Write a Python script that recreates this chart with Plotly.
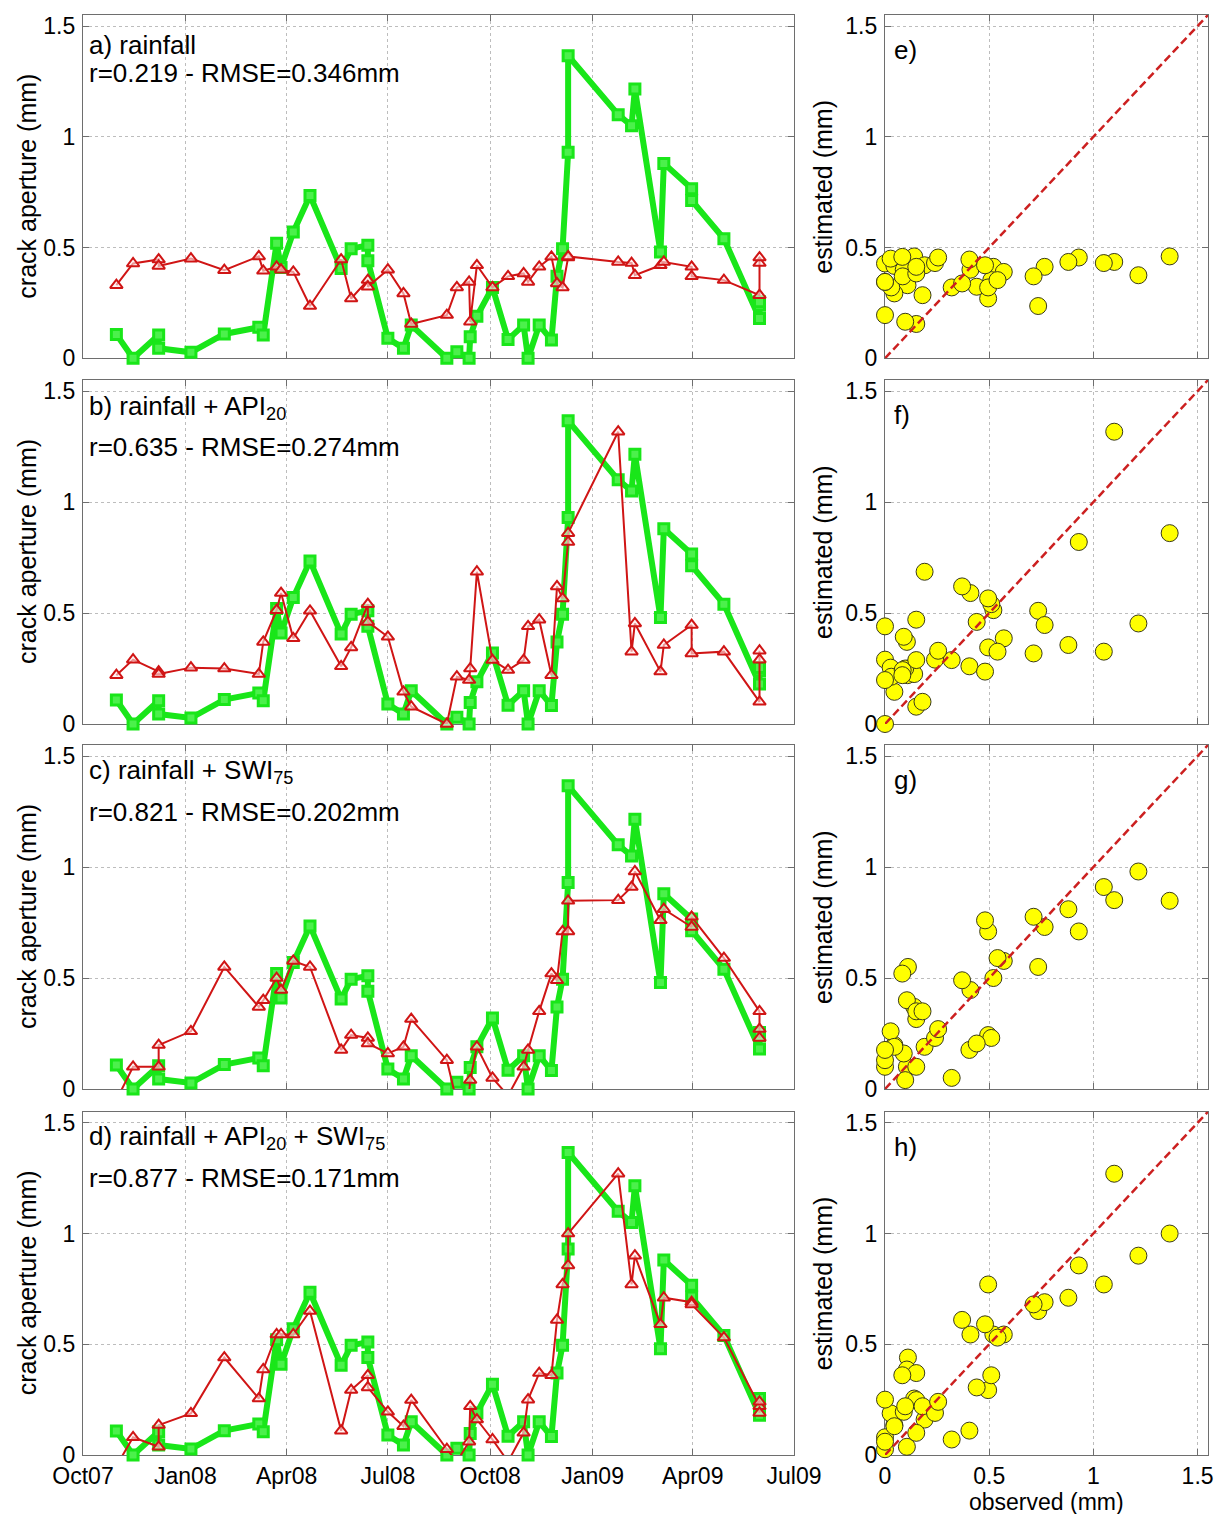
import plotly.graph_objects as go

W, H = 1217, 1514

dates = [
    "2007-10-31", "2007-11-15", "2007-12-08", "2007-12-08", "2008-01-06",
    "2008-02-05", "2008-03-07", "2008-03-11", "2008-03-23", "2008-03-27",
    "2008-04-07", "2008-04-22", "2008-05-20", "2008-05-29", "2008-06-13",
    "2008-06-13", "2008-07-01", "2008-07-15", "2008-07-22", "2008-08-23",
    "2008-09-01", "2008-09-12", "2008-09-13", "2008-09-19", "2008-10-03",
    "2008-10-17", "2008-10-31", "2008-11-04", "2008-11-14", "2008-11-25",
    "2008-11-30", "2008-12-05", "2008-12-10", "2008-12-10", "2009-01-24",
    "2009-02-05", "2009-02-08", "2009-03-03", "2009-03-06", "2009-03-31",
    "2009-03-31", "2009-04-29", "2009-05-31", "2009-05-31", "2009-05-31",
]

observed = [
    0.108, 0.0, 0.105, 0.045, 0.027, 0.11, 0.14, 0.105, 0.52, 0.41,
    0.57, 0.735, 0.405, 0.495, 0.51, 0.44, 0.09, 0.045, 0.15, 0.0,
    0.03, 0.0, 0.097, 0.19, 0.32, 0.085, 0.15, 0.0, 0.15, 0.083,
    0.37, 0.495, 0.93, 1.366, 1.10, 1.05, 1.216, 0.48, 0.88, 0.766,
    0.713, 0.54, 0.18, 0.24, 0.255,
]

est_rain = [
    0.33, 0.428, 0.446, 0.417, 0.45, 0.398, 0.46, 0.395, 0.413, 0.40,
    0.39, 0.236, 0.446, 0.27, 0.353, 0.323, 0.40, 0.293, 0.155, 0.195,
    0.32, 0.345, 0.165, 0.42, 0.32, 0.37, 0.383, 0.345, 0.413, 0.458,
    0.338, 0.32, 0.455, 0.46, 0.435, 0.43, 0.375, 0.42, 0.435, 0.413,
    0.37, 0.353, 0.285, 0.43, 0.455,
]

est_api = [
    0.22, 0.29, 0.236, 0.225, 0.254, 0.25, 0.225, 0.37, 0.513, 0.59,
    0.386, 0.51, 0.26, 0.345, 0.54, 0.46, 0.393, 0.145, 0.078, 0.0,
    0.213, 0.198, 0.25, 0.686, 0.288, 0.243, 0.288, 0.44, 0.47, 0.22,
    0.62, 0.566, 0.82, 0.86, 1.317, 0.326, 0.453, 0.236, 0.356, 0.446,
    0.318, 0.326, 0.10, 0.29, 0.33,
]

est_swi = [
    -0.05, 0.10, 0.10, 0.198, 0.26, 0.55, 0.37, 0.40, 0.50, 0.446,
    0.577, 0.55, 0.176, 0.243, 0.23, 0.205, 0.16, 0.19, 0.315, 0.13,
    -0.06, -0.02, 0.04, 0.19, 0.05, -0.03, 0.10, 0.176, 0.35, 0.52,
    0.49, 0.71, 0.71, 0.848, 0.851, 0.91, 0.98, 0.76, 0.81, 0.73,
    0.776, 0.59, 0.35, 0.23, 0.27,
]

est_all = [
    -0.05, 0.08, 0.037, 0.135, 0.188, 0.44, 0.255, 0.386, 0.544, 0.544,
    0.544, 0.65, 0.11, 0.293, 0.36, 0.305, 0.195, 0.13, 0.248, 0.026,
    -0.03, 0.06, 0.22, 0.16, 0.07, -0.03, 0.10, 0.25, 0.37, 0.36,
    0.61, 0.77, 0.856, 1.0, 1.27, 0.77, 0.90, 0.59, 0.71, 0.69,
    0.68, 0.53, 0.22, 0.19, 0.24,
]

estimates = [est_rain, est_api, est_swi, est_all]

panel_titles = [
    "a) rainfall",
    "b) rainfall + API<sub>20</sub>",
    "c) rainfall + SWI<sub>75</sub>",
    "d) rainfall + API<sub>20</sub> + SWI<sub>75</sub>",
]
panel_stats = [
    "r=0.219 - RMSE=0.346mm",
    "r=0.635 - RMSE=0.274mm",
    "r=0.821 - RMSE=0.202mm",
    "r=0.877 - RMSE=0.171mm",
]
scatter_labels = ["e)", "f)", "g)", "h)"]

date_ticks = ["2007-10-01", "2008-01-01", "2008-04-01", "2008-07-01",
              "2008-10-01", "2009-01-01", "2009-04-01", "2009-07-01"]
date_tick_labels = ["Oct07", "Jan08", "Apr08", "Jul08", "Oct08", "Jan09", "Apr09", "Jul09"]
value_ticks = [0, 0.5, 1, 1.5]
value_tick_labels = ["0", "0.5", "1", "1.5"]
AX_MAX = 1.55

# layout in page pixels
LEFT_X = (83, 794)
RIGHT_X = (885, 1208)
ROWS = [(15, 358.3), (380, 724), (745, 1089), (1111.7, 1455)]
LINE1_OFF = [30, 27, 27, 26]
LINE2_OFF = [58, 67, 67, 66]

FONT = "Liberation Sans, Arial, sans-serif"
FS_TICK = 23
FS_TITLE = 25
FS_TEXT = 26
GREEN = "#19e619"
GREEN_FILL = "#4cf04c"
RED = "#d01515"
GRID = "#bdbdbd"
FRAME = "#6e6e6e"


def px_x(x):
    return x / W


def px_y(y):
    return 1 - y / H


fig = go.Figure()
layout = dict(
    width=W, height=H,
    margin=dict(l=0, r=0, t=0, b=0, autoexpand=False),
    paper_bgcolor="white", plot_bgcolor="white",
    showlegend=False,
    font=dict(family=FONT, size=FS_TICK, color="black"),
)
annotations = []

for i in range(4):
    top, bot = ROWS[i]
    ydom = [px_y(bot), px_y(top)]
    nl, nr = 2 * i + 1, 2 * i + 2
    xl, yl = f"x{nl}", f"y{nl}"
    xr, yr = f"x{nr}", f"y{nr}"
    last = i == 3

    axis_common = dict(
        showline=True, linecolor=FRAME, linewidth=1.2, mirror="ticks",
        ticks="inside", ticklen=6, tickcolor=FRAME, tickwidth=1,
        showgrid=True, gridcolor=GRID, griddash="dot", gridwidth=1,
        zeroline=False, layer="below traces", automargin=False,
        tickfont=dict(family=FONT, size=FS_TICK, color="black"),
    )

    layout[f"xaxis{nl}"] = dict(
        axis_common, domain=[px_x(LEFT_X[0]), px_x(LEFT_X[1])], anchor=yl,
        type="date", range=[date_ticks[0], date_ticks[-1]],
        tickmode="array", tickvals=date_ticks, ticktext=date_tick_labels,
        showticklabels=last, ticklabelstandoff=0,
    )
    layout[f"yaxis{nl}"] = dict(
        axis_common, domain=ydom, anchor=xl, range=[0, AX_MAX],
        tickmode="array", tickvals=value_ticks, ticktext=value_tick_labels,
        ticklabelstandoff=2,
    )
    layout[f"xaxis{nr}"] = dict(
        axis_common, domain=[px_x(RIGHT_X[0]), px_x(RIGHT_X[1])], anchor=yr,
        range=[0, AX_MAX], tickmode="array", tickvals=value_ticks,
        ticktext=value_tick_labels, showticklabels=last, ticklabelstandoff=0,
    )
    layout[f"yaxis{nr}"] = dict(
        axis_common, domain=ydom, anchor=xr, range=[0, AX_MAX],
        tickmode="array", tickvals=value_ticks, ticktext=value_tick_labels,
        ticklabelstandoff=2,
    )

    est = estimates[i]

    # observed (green)
    fig.add_trace(go.Scatter(
        x=dates, y=observed, mode="lines+markers", xaxis=xl, yaxis=yl,
        line=dict(color=GREEN, width=6),
        marker=dict(symbol="square", size=10, color=GREEN_FILL,
                    line=dict(color=GREEN, width=3)),
        cliponaxis=False, hoverinfo="skip",
    ))
    # estimated (red) line
    fig.add_trace(go.Scatter(
        x=dates, y=est, mode="lines", xaxis=xl, yaxis=yl,
        line=dict(color=RED, width=2), hoverinfo="skip",
    ))
    vis = [k for k, v in enumerate(est) if v >= 0]
    fig.add_trace(go.Scatter(
        x=[dates[k] for k in vis], y=[est[k] for k in vis], mode="markers",
        xaxis=xl, yaxis=yl,
        marker=dict(symbol="triangle-up", size=11, color="rgba(255,235,235,0.6)",
                    line=dict(color=RED, width=2)),
        cliponaxis=False, hoverinfo="skip",
    ))

    # scatter observed vs estimated
    fig.add_trace(go.Scatter(
        x=[observed[k] for k in vis], y=[est[k] for k in vis], mode="markers",
        xaxis=xr, yaxis=yr,
        marker=dict(symbol="circle", size=17, color="#ffff00",
                    line=dict(color="#3a3a1a", width=1)),
        cliponaxis=False, hoverinfo="skip",
    ))
    fig.add_trace(go.Scatter(
        x=[0, AX_MAX], y=[0, AX_MAX], mode="lines", xaxis=xr, yaxis=yr,
        line=dict(color="#cc2020", width=2.5, dash="8px,4px"), hoverinfo="skip",
    ))

    # texts
    annotations.append(dict(
        text=panel_titles[i], xref="paper", yref="paper",
        x=px_x(87), y=px_y(top + LINE1_OFF[i]), xanchor="left", yanchor="middle",
        showarrow=False, font=dict(family=FONT, size=FS_TEXT, color="black"),
    ))
    annotations.append(dict(
        text=panel_stats[i], xref="paper", yref="paper",
        x=px_x(87), y=px_y(top + LINE2_OFF[i]), xanchor="left", yanchor="middle",
        showarrow=False, font=dict(family=FONT, size=FS_TEXT, color="black"),
    ))
    annotations.append(dict(
        text=scatter_labels[i], xref="paper", yref="paper",
        x=px_x(892), y=px_y(top + 35), xanchor="left", yanchor="middle",
        showarrow=False, font=dict(family=FONT, size=FS_TEXT, color="black"),
    ))
    annotations.append(dict(
        text="crack aperture (mm)", xref="paper", yref="paper", textangle=-90,
        x=px_x(27), y=px_y((top + bot) / 2), xanchor="center", yanchor="middle",
        showarrow=False, font=dict(family=FONT, size=FS_TITLE, color="black"),
    ))
    annotations.append(dict(
        text="estimated (mm)", xref="paper", yref="paper", textangle=-90,
        x=px_x(823), y=px_y((top + bot) / 2), xanchor="center", yanchor="middle",
        showarrow=False, font=dict(family=FONT, size=FS_TITLE, color="black"),
    ))

annotations.append(dict(
    text="observed (mm)", xref="paper", yref="paper",
    x=px_x((RIGHT_X[0] + RIGHT_X[1]) / 2), y=px_y(1502), xanchor="center", yanchor="middle",
    showarrow=False, font=dict(family=FONT, size=FS_TITLE - 2, color="black"),
))

layout["annotations"] = annotations
fig.update_layout(**layout)
fig.write_html(
    "out.html",
    config={"displayModeBar": False},
    post_script="document.body.style.margin='0';document.body.style.overflow='hidden';",
)
